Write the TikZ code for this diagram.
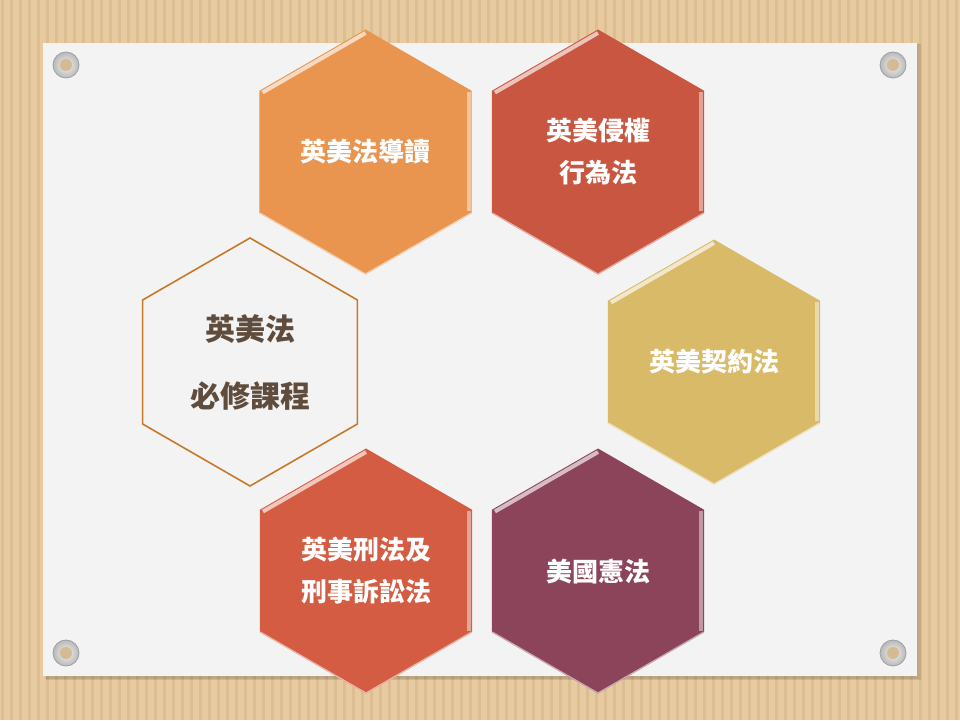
\documentclass[tikz,border=0pt]{standalone}
\usepackage{fontspec}
\newfontfamily\cjk{Noto Sans CJK TC}
\usetikzlibrary{calc}
\definecolor{wood}{HTML}{E8CAA0}
\definecolor{woodline}{HTML}{DDBD92}
\definecolor{paper}{HTML}{F3F3F3}
\definecolor{hexorange}{HTML}{E9944F}
\definecolor{hexred}{HTML}{C95640}
\definecolor{hexyellow}{HTML}{D9BA68}
\definecolor{hexmaroon}{HTML}{8B4459}
\definecolor{hexcrim}{HTML}{D35C42}
\definecolor{hexline}{HTML}{C47A2A}
\definecolor{maintext}{HTML}{5F4C3D}

\begin{document}
\begin{tikzpicture}[x=1pt, y=1pt,
    course/.style={text=white, font=\cjk\bfseries\fontsize{26}{42}\selectfont, align=center},
    main/.style={text=maintext, font=\cjk\bfseries\fontsize{30}{67}\selectfont, align=center},
    bevel/.style={line width=4pt, line cap=butt},
    screw/.style={draw=gray!75, line width=0.8pt, inner color=gray!10, outer color=gray!55}
]
    \useasboundingbox (0,0) rectangle (960,720);

    % Fond bois
    \fill[wood] (0,0) rectangle (960,720);
    \foreach \x in {2,11,...,960} {
        \draw[woodline, line width=3pt] (\x,0) -- (\x,720);
    }

    % Feuille
    \fill[black, opacity=0.10] (46,40) rectangle (921,676);
    \fill[black, opacity=0.08] (45,41) rectangle (919,677);
    \fill[paper] (43,44) rectangle (917,677);

    % Vis
    \foreach \sx/\sy in {66/655, 893/655, 66/67, 893/67} {
        \shade[screw] (\sx,\sy) circle (13);
        \fill[wood!92!black] (\sx,\sy) circle (6);
    }

    % Hexagones de couleur
    \foreach \n/\x/\y/\col in {law/365.5/568/hexorange, tort/598/568/hexred,
            contract/714/358/hexyellow, const/598/149/hexmaroon, crim/366/149/hexcrim} {
        \coordinate (\n) at (\x,\y);
        \fill[\col] ($(\n)+(90:122.5)$) \foreach \a in {150,210,270,330,30} { -- ($(\n)+(\a:122.5)$) } -- cycle;
        \draw[bevel, \col!35!white] ($(\n)+(150:119)$) -- ($(\n)+(90:119)$);
        \draw[bevel, \col!55!white] ($(\n)+(30:119)$) -- ($(\n)+(-30:119)$);
        \draw[\col!45!white, line width=1.2pt] ($(\n)+(210:122)$) -- ($(\n)+(270:122)$) -- ($(\n)+(330:122)$);
    }

    % Hexagone central
    \coordinate (core) at (250,358);
    \draw[hexline, line width=1.6pt] ($(core)+(90:124)$) \foreach \a in {150,210,270,330,30} { -- ($(core)+(\a:124)$) } -- cycle;

    % Textes
    \node[course] (lawtxt) at (law) {英美法導讀};
    \node[course] (torttxt) at (tort) {英美侵權\\行為法};
    \node[course] (contracttxt) at (contract) {英美契約法};
    \node[course] (consttxt) at (const) {美國憲法};
    \node[course] (crimtxt) at (crim) {英美刑法及\\刑事訴訟法};
    \node[main] (coretxt) at (core) {英美法\\必修課程};
\end{tikzpicture}
\end{document}
